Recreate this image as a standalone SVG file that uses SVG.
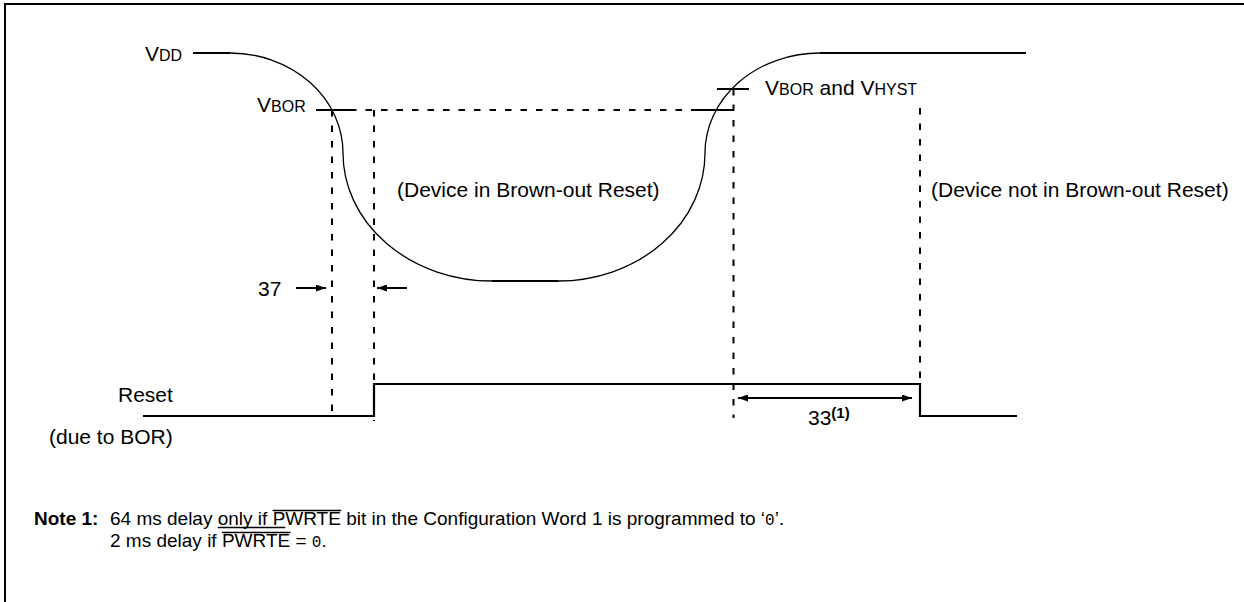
<svg xmlns="http://www.w3.org/2000/svg" width="1244" height="602" viewBox="0 0 1244 602">
<style>
text{font-family:"Liberation Sans",Arial,sans-serif;fill:#000}
.lbl{font-size:21px}
.sc{font-size:16px}
.note{font-size:19px}
.thin{fill:none;stroke:#000;stroke-width:1.3}
.thick{fill:none;stroke:#000;stroke-width:2.2}
.dash{fill:none;stroke:#000;stroke-width:2;stroke-dasharray:6.5 9}
.arr{fill:none;stroke:#000;stroke-width:2}
.mono{font-family:"Liberation Mono","Courier New",monospace;font-size:16px}
</style>
<defs>
<marker id="ah" viewBox="0 0 10 7" refX="10" refY="3.5" markerWidth="10" markerHeight="7" markerUnits="userSpaceOnUse" orient="auto-start-reverse">
<path d="M0,0 L10,3.5 L0,7 z" fill="#000"/>
</marker>
</defs>
<rect width="1244" height="602" fill="#fff"/>
<path d="M5,602 V4 H1244" fill="none" stroke="#000" stroke-width="2"/>

<g id="vdd-waveform">
<path class="thin" d="M230,53 A113,100 0 0 1 343,153 A149,128 0 0 0 492,281 L558,281 A147,128 0 0 0 705,153 A115,100 0 0 1 820,53"/>
<path class="thick" d="M193,53 H230 M820,53 H1026 M492,281 H558"/>
</g>

<g id="reset-waveform">
<path class="thick" d="M143,416 H374 V384 H920 V416 H1017"/>
</g>

<g id="connectors">
<path class="dash" d="M350,110 H697"/>
<path class="dash" d="M332,110 V412"/>
<path class="dash" d="M374,110 V421"/>
<path class="dash" d="M733.5,89 V418"/>
<path class="dash" d="M920,108 V384"/>
<path class="thick" d="M316,110 H350 M697,110 H733 M717,89 H749"/>
<path class="arr" d="M296,288 H326" marker-end="url(#ah)"/>
<path class="arr" d="M407,288 H377" marker-end="url(#ah)"/>
<path class="arr" d="M738,398 H912" marker-start="url(#ah)" marker-end="url(#ah)"/>
</g>

<g id="label-vdd"><text class="lbl" x="145" y="61">V<tspan class="sc">DD</tspan></text></g>
<g id="label-vbor"><text class="lbl" x="257" y="112">V<tspan class="sc">BOR</tspan></text></g>
<g id="label-vhyst"><text class="lbl" x="765" y="95">V<tspan class="sc">BOR</tspan> and V<tspan class="sc">HYST</tspan></text></g>
<g id="label-in-bor"><text class="lbl" x="397" y="197">(Device in Brown-out Reset)</text></g>
<g id="label-not-bor"><text class="lbl" x="931" y="197">(Device not in Brown-out Reset)</text></g>
<g id="label-37"><text class="lbl" x="258" y="296">37</text></g>
<g id="label-reset"><text class="lbl" x="118" y="402">Reset</text><text class="lbl" x="49" y="444">(due to BOR)</text></g>
<g id="label-33"><text class="lbl" x="808" y="425">33<tspan font-size="15" font-weight="bold" dy="-7">(1)</tspan></text></g>

<g id="note">
<text class="note" x="34" y="525" font-weight="bold">Note 1:</text>
<text class="note" x="110" y="525">64 ms delay only if PWRTE bit in the Configuration Word 1 is programmed to ‘<tspan class="mono">0</tspan>’.</text>
<text class="note" x="110" y="547">2 ms delay if PWRTE = <tspan class="mono">0</tspan>.</text>
<path d="M217.7,527.5 H285.3 M272.6,510.5 H341.2 M221.9,532.5 H290.5" fill="none" stroke="#000" stroke-width="1.4"/>
</g>
</svg>
